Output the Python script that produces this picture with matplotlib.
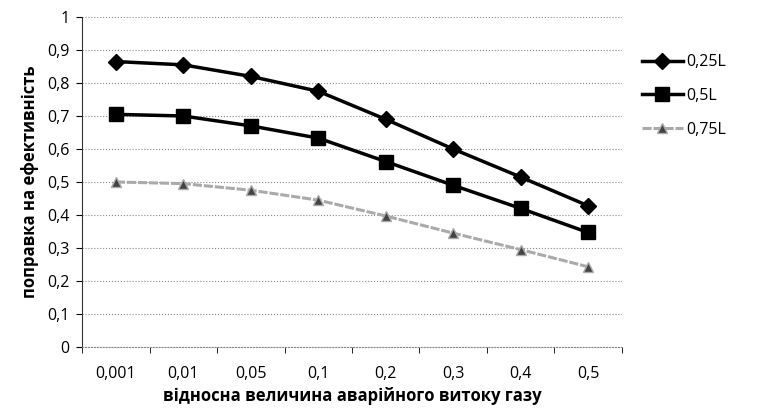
import matplotlib.pyplot as plt
from matplotlib.ticker import FuncFormatter
import numpy as np

categories = ['0,001', '0,01', '0,05', '0,1', '0,2', '0,3', '0,4', '0,5']
s025 = [0.865, 0.855, 0.82, 0.775, 0.69, 0.60, 0.515, 0.428]
s05 = [0.705, 0.70, 0.67, 0.633, 0.562, 0.49, 0.42, 0.347]
s075 = [0.50, 0.495, 0.475, 0.445, 0.397, 0.345, 0.295, 0.243]

plt.rcParams['font.family'] = ['Open Sans', 'DejaVu Sans']

fig = plt.figure(figsize=(7.61, 4.15), dpi=100)
ax = fig.add_axes([0.108, 0.164, 0.709, 0.795])

x = np.arange(len(categories))
ax.plot(x, s025, color='black', lw=2.5, marker='D', ms=8, label='0,25L')
ax.plot(x, s05, color='black', lw=2.5, marker='s', ms=10, label='0,5L')
ax.plot(x, s075, color='#aaaaaa', lw=2.2, ls=(0, (3, 0.6)), marker='^', ms=7,
        mfc='#444444', mec='#aaaaaa', label='0,75L')

ax.set_xlim(-0.5, len(categories) - 0.5)
ax.set_ylim(0, 1)
ax.set_yticks(np.arange(0, 1.01, 0.1))
ax.yaxis.set_major_formatter(FuncFormatter(lambda v, p: '0' if v == 0 else ('1' if v == 1 else f'{v:.1f}'.replace('.', ','))))
ax.set_xticks(x)
ax.set_xticklabels(categories)
ax.set_xticks(np.arange(-0.5, len(categories), 1), minor=True)
ax.tick_params(axis='x', which='major', length=0, pad=14, labelsize=11.5)
ax.tick_params(axis='x', which='minor', length=4, direction='out')
ax.tick_params(axis='y', length=4, labelsize=11.5, pad=5)
ax.grid(axis='y', color='#888888', ls=':', lw=0.8)
for s in ['top', 'right']:
    ax.spines[s].set_visible(False)
ax.spines['left'].set_color('#333333')
ax.spines['bottom'].set_color('#888888')
ax.spines['bottom'].set_linestyle(':')

ax.set_xlabel('відносна величина аварійного витоку газу', fontsize=12, fontweight='bold', labelpad=3)
ax.set_ylabel('поправка на ефективність', fontsize=12, fontweight='bold', labelpad=6)

ax.legend(loc='upper left', bbox_to_anchor=(1.01, 0.93), frameon=False, fontsize=11.5,
          handlelength=2.6, labelspacing=1.1, handletextpad=0.2)

fig.savefig('out.png', dpi=100)
